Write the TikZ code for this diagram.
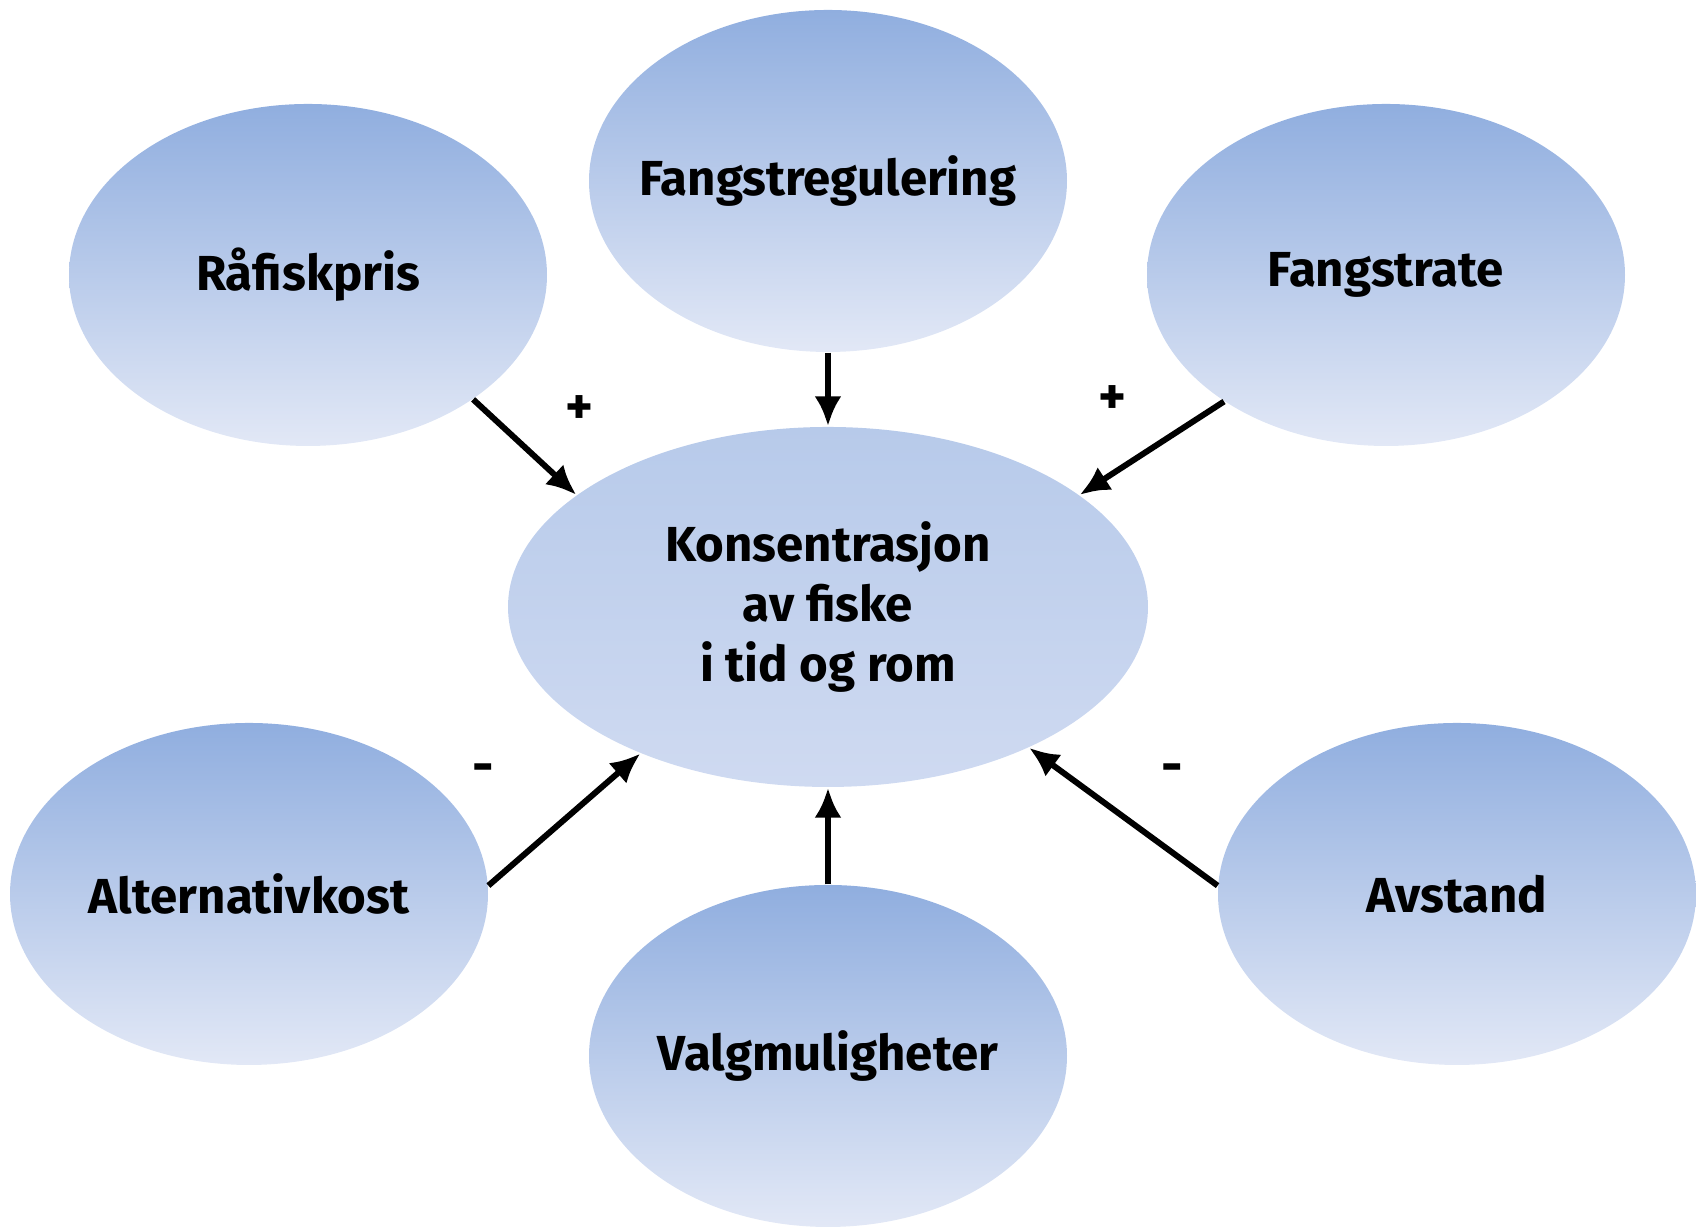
\documentclass[tikz,border=0pt]{standalone}
\usepackage{fontspec}
\setmainfont{Fira Sans}
\usepackage{tikz}
\usetikzlibrary{shapes.geometric}
\usetikzlibrary{arrows.meta}
\usetikzlibrary{calc}
\definecolor{elltop}{HTML}{90AEDF}
\definecolor{ellbot}{HTML}{E2E8F6}
\definecolor{midtop}{HTML}{B7CAEA}
\definecolor{midbot}{HTML}{CFDAF1}

\begin{document}
\begin{tikzpicture}[
		factor/.style={ellipse,minimum width=4.78cm,minimum height=3.42cm,inner ysep=0pt,inner xsep=-0.8cm,top color=elltop,bottom color=ellbot,draw=none,font=\fontsize{14}{17}\selectfont\bfseries},
		effect/.style={line width=1.7pt,-{Latex[length=0.3cm,width=0.27cm]}},
		sign/.style={font=\fontsize{15}{17}\selectfont\bfseries}]
				\useasboundingbox (0,0) rectangle (16.96,12.28);
				\def\ytop{9.53};
				\def\ybot{3.34};
				\def\xmid{8.28};
				\node[factor] (fang) at (\xmid,10.47) {Fangstregulering};
				\node[factor] (raa) at (3.08,\ytop) {Råfiskpris};
				\node[factor] (rate) at (13.86,\ytop) {Fangstrate};
				\node[factor] (alt) at (2.49,\ybot) {Alternativkost};
				\node[factor] (valg) at (\xmid,1.72) {Valgmuligheter};
				\node[factor] (avst) at (14.57,\ybot) {Avstand};
				\node[factor,minimum width=6.40cm,minimum height=3.60cm,top color=midtop,bottom color=midbot,align=center] (kons) at (\xmid,6.21) {Konsentrasjon\\av fiske\\i tid og rom};
				\draw[effect] (raa.-37) -- (kons.156);
				\draw[effect] (fang.south) -- (kons.north);
				\draw[effect] (rate.-142) -- (kons.24);
				\draw[effect] (alt.2) -- (kons.-142);
				\draw[effect] (valg.north) -- (kons.south);
				\draw[effect] (avst.178) -- (kons.-35);
				\node[sign] (pa) at (5.79,8.18) {+};
				\node[sign] (pb) at (11.12,8.28) {+};
				\node[sign] (ma) at (4.83,4.54) {-};
				\node[sign] (mb) at (11.72,4.54) {-};
\end{tikzpicture}
\end{document}
